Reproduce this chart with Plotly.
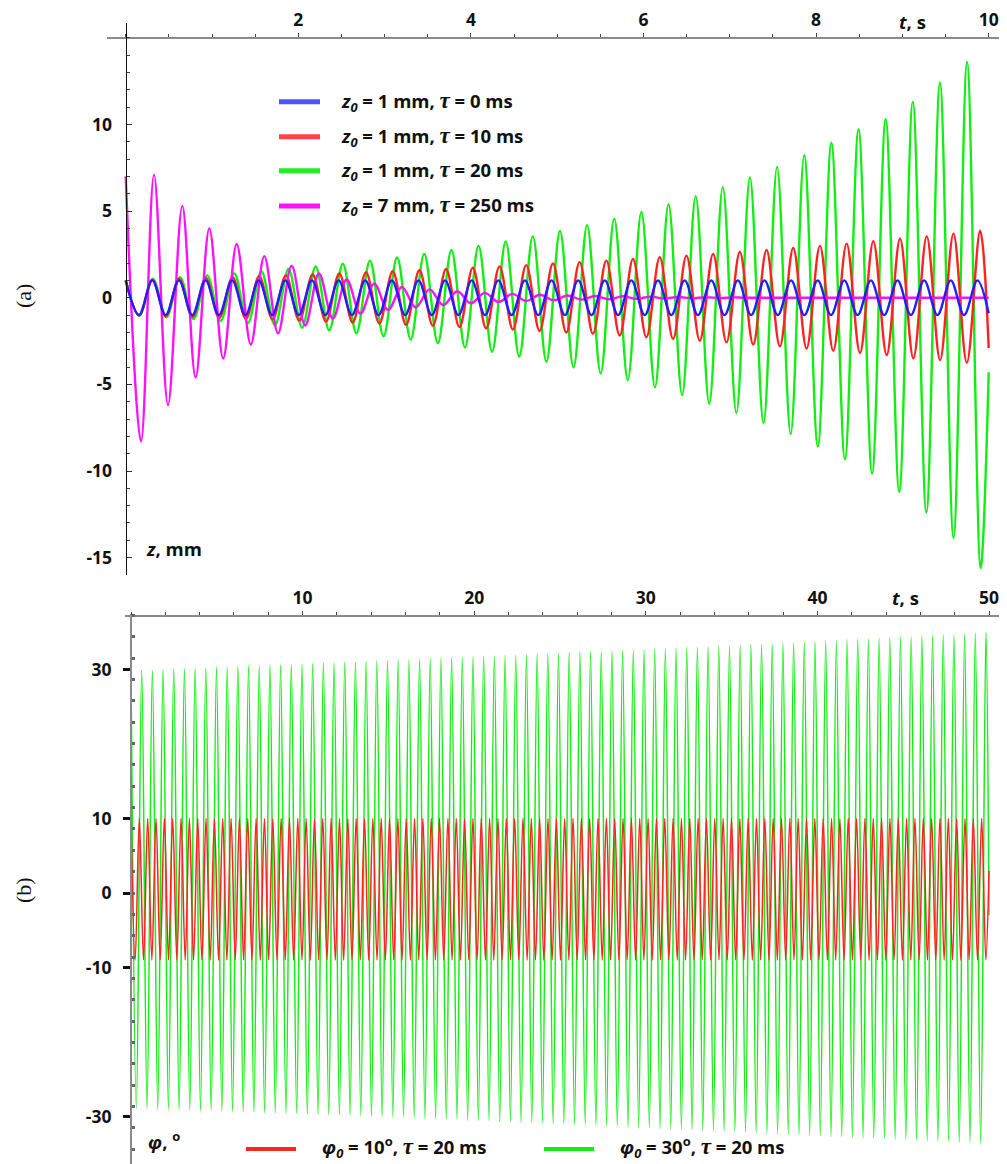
import plotly.graph_objects as go

# ================= Panel (a): z(t), mm  (t in s) =================
A_T_END = 10.0

# z0 = 1 mm, tau = 0 ms : constant amplitude
blue_half_period = 0.1542
blue_extrema = [1.0, -1.0] * 32 + [1.0]
blue_end = -0.9

# z0 = 1 mm, tau = 10 ms : slowly growing
red_half_period = 0.1547
red_peaks = [1.00, 1.04, 1.09, 1.14, 1.18, 1.24, 1.29, 1.34, 1.40, 1.46,
             1.53, 1.59, 1.66, 1.73, 1.81, 1.88, 1.97, 2.05, 2.14, 2.23,
             2.33, 2.43, 2.53, 2.64, 2.75, 2.87, 2.99, 3.12, 3.26, 3.40,
             3.54, 3.70, 3.86]
red_troughs = [-1.02, -1.07, -1.11, -1.16, -1.21, -1.26, -1.32, -1.37, -1.43, -1.49,
               -1.56, -1.62, -1.69, -1.77, -1.84, -1.92, -2.01, -2.09, -2.18, -2.28,
               -2.38, -2.48, -2.58, -2.70, -2.81, -2.93, -3.06, -3.19, -3.31, -3.50,
               -3.60, -3.75]
red_end = -2.9

# z0 = 1 mm, tau = 20 ms : strongly growing
green_half_period = 0.15725
green_peaks = [1.00, 1.09, 1.18, 1.29, 1.40, 1.52, 1.66, 1.80, 1.96, 2.13,
               2.32, 2.53, 2.75, 2.99, 3.25, 3.54, 3.85, 4.19, 4.56, 4.95,
               5.39, 5.86, 6.38, 6.94, 7.55, 8.22, 8.94, 9.72, 10.3, 11.3,
               12.4, 13.6]
green_troughs = [-1.04, -1.13, -1.23, -1.34, -1.46, -1.59, -1.73, -1.88, -2.05, -2.23,
                 -2.42, -2.63, -2.87, -3.12, -3.39, -3.69, -4.02, -4.37, -4.75, -5.17,
                 -5.62, -6.12, -6.65, -7.24, -7.87, -8.57, -9.32, -10.14, -11.2, -12.4,
                 -13.85, -15.6]
green_end = -4.3

# z0 = 7 mm, tau = 250 ms : decaying
magenta_t = [0.0, 0.177, 0.328, 0.49, 0.656, 0.81, 0.969, 1.13, 1.286, 1.45,
             1.606, 1.765, 1.923, 2.08, 2.24, 2.40, 2.56, 2.72, 2.88, 3.04,
             3.20, 3.36, 3.52, 3.68, 3.84, 4.00, 4.16, 4.32, 4.48, 4.64,
             4.80, 4.96, 5.12, 5.28, 5.44, 5.60, 5.76, 5.92, 6.08, 6.24,
             6.40, 6.56, 6.72, 6.88, 7.04, 7.20, 10.0]
magenta_z = [7.0, -8.3, 7.1, -6.2, 5.3, -4.6, 4.0, -3.5, 3.1, -2.7,
             2.4, -2.05, 1.85, -1.6, 1.4, -1.2, 1.05, -0.92, 0.81, -0.71,
             0.62, -0.55, 0.48, -0.42, 0.37, -0.32, 0.28, -0.25, 0.22, -0.19,
             0.17, -0.15, 0.13, -0.11, 0.10, -0.09, 0.08, -0.07, 0.06, -0.05,
             0.04, -0.035, 0.03, -0.025, 0.02, 0.0, 0.0]

a_xticks = [2, 4, 6, 8, 10]
a_yticks = [-15, -10, -5, 0, 5, 10]
a_yticktext = ["-15", "-10", "-5", "0", "5", "10"]
TAU = "<span style=\"font-family:'Liberation Serif';font-size:23px\"><i>τ</i></span>"
a_legend = ["<i>z</i><sub><i>0</i></sub> = 1 mm, " + TAU + " = 0 ms",
            "<i>z</i><sub><i>0</i></sub> = 1 mm, " + TAU + " = 10 ms",
            "<i>z</i><sub><i>0</i></sub> = 1 mm, " + TAU + " = 20 ms",
            "<i>z</i><sub><i>0</i></sub> = 7 mm, " + TAU + " = 250 ms"]

# ================= Panel (b): phi(t), degrees =================
B_T_END = 50.0
green_b_half_period = 0.3114
green_b_tops = [30.0, 29.9, 29.9, 30.0, 30.1, 30.1, 30.2, 30.2, 30.3, 30.3,
                30.4, 30.5, 30.5, 30.6, 30.6, 30.7, 30.7, 30.8, 30.9, 30.9,
                31.0, 31.0, 31.1, 31.2, 31.2, 31.3, 31.3, 31.4, 31.5, 31.5,
                31.6, 31.6, 31.7, 31.8, 31.8, 31.9, 31.9, 32.0, 32.1, 32.1,
                32.2, 32.3, 32.3, 32.4, 32.4, 32.5, 32.6, 32.6, 32.7, 32.8,
                32.8, 32.9, 33.0, 33.0, 33.1, 33.2, 33.2, 33.3, 33.4, 33.4,
                33.5, 33.6, 33.6, 33.7, 33.8, 33.9, 33.9, 34.0, 34.1, 34.1,
                34.2, 34.3, 34.4, 34.4, 34.5, 34.6, 34.7, 34.7, 34.8, 34.9,
                35.0]
green_b_bottoms = [-28.9, -28.9, -29.0, -29.0, -29.1, -29.1, -29.2, -29.2, -29.3, -29.3,
                   -29.4, -29.4, -29.5, -29.5, -29.6, -29.6, -29.7, -29.7, -29.8, -29.8,
                   -29.9, -29.9, -30.0, -30.0, -30.1, -30.1, -30.2, -30.3, -30.3, -30.4,
                   -30.4, -30.5, -30.5, -30.6, -30.7, -30.7, -30.8, -30.8, -30.9, -31.0,
                   -31.0, -31.1, -31.1, -31.2, -31.3, -31.3, -31.4, -31.5, -31.5, -31.6,
                   -31.7, -31.7, -31.8, -31.9, -31.9, -32.0, -32.1, -32.1, -32.2, -32.3,
                   -32.3, -32.4, -32.5, -32.5, -32.6, -32.7, -32.7, -32.8, -32.9, -32.9,
                   -33.0, -33.1, -33.1, -33.2, -33.3, -33.3, -33.4, -33.5, -33.5, -33.6]
green_b_end = -3.0

red_b_half_period = 0.243
red_b_peak = 10.0
red_b_trough = -9.0
red_b_count = 206
red_b_end = 3.0

b_yticks = [-30, -10, 0, 10, 30]
b_yticktext = ["-30", "-10", "0", "10", "30"]
b_xticks = [10, 20, 30, 40, 50]
b_legend = ["<i>φ</i><sub><i>0</i></sub> = 10<sup>o</sup>, " + TAU + " = 20 ms",
            "<i>φ</i><sub><i>0</i></sub> = 30<sup>o</sup>, " + TAU + " = 20 ms"]

# ---------------- helpers ----------------
def interleave(peaks, troughs):
    out = []
    for i in range(max(len(peaks), len(troughs))):
        if i < len(peaks):
            out.append(peaks[i])
        if i < len(troughs):
            out.append(troughs[i])
    return out


def series(half_period, extrema, t_end, end_value):
    t = [k * half_period for k in range(len(extrema))] + [t_end]
    return t, list(extrema) + [end_value]


BLUE = "#1e1eff"
RED = "#ff2222"
GREEN = "#11ee11"
MAGENTA = "#ff11ff"
LBLUE = "#5050ff"
LRED = "#ff4444"
LGREEN = "#22ee22"

fig = go.Figure()

bt, bz = series(blue_half_period, blue_extrema, A_T_END, blue_end)
rt, rz = series(red_half_period, interleave(red_peaks, red_troughs), A_T_END, red_end)
gt, gz = series(green_half_period, interleave(green_peaks, green_troughs), A_T_END, green_end)

for t, z, c in [(gt, gz, GREEN), (rt, rz, RED), (magenta_t, magenta_z, MAGENTA), (bt, bz, BLUE)]:
    fig.add_trace(go.Scatter(x=t, y=z, mode="lines", line=dict(color=c, width=2.4, shape="spline", smoothing=1.0),
                             xaxis="x", yaxis="y", showlegend=False, hoverinfo="skip"))

gbt, gbz = series(green_b_half_period, interleave(green_b_tops, green_b_bottoms), B_T_END, green_b_end)
red_b_ext = [red_b_peak if k % 2 == 0 else red_b_trough for k in range(red_b_count)]
rbt, rbz = series(red_b_half_period, red_b_ext, B_T_END, red_b_end)

fig.add_trace(go.Scatter(x=gbt, y=gbz, mode="lines", line=dict(color=GREEN, width=1.5, shape="spline", smoothing=1.0),
                         xaxis="x2", yaxis="y2", showlegend=False, hoverinfo="skip"))
fig.add_trace(go.Scatter(x=rbt, y=rbz, mode="lines", line=dict(color=RED, width=1.5, shape="spline", smoothing=1.0),
                         xaxis="x2", yaxis="y2", showlegend=False, hoverinfo="skip"))

# page body has an 8px margin: the figure occupies page pixels 8..
OFF = 8
W, H = 999, 1156
def px(x):
    return (x - OFF) / W
def py(y):
    return 1 - (y - OFF) / H

FONT = "'Open Sans', Lato, sans-serif"
TICKFONT = dict(family=FONT, size=17.5, color="#111", weight="bold")
TXT = dict(family=FONT, size=18.5, color="#111")

# pixel calibration of the reference
# panel a: t=0 at x=125.7, 86.3 px/s ; z=0 at y=297.7, 17.33 px/unit
def ta(x):
    return (x - 125.7) / 86.3
def za(y):
    return (297.7 - y) / 17.33
# panel b: t=0 at x=131, 17.16 px/s ; phi=0 at y=893, 7.45 px/deg
def tb(x):
    return (x - 131) / 17.16
def zb(y):
    return (893 - y) / 7.45

fig.update_layout(
    width=W, height=H, margin=dict(l=0, r=0, t=0, b=0),
    plot_bgcolor="white", paper_bgcolor="white",
    showlegend=False,
    xaxis=dict(domain=[px(107), px(1003)], range=[ta(107), ta(1003)], anchor="free", position=py(37.7),
               side="top", showline=True, linecolor="#8a8a8a", linewidth=2,
               tickmode="array", tickvals=a_xticks, ticks="outside", ticklen=4, tickcolor="#444",
               tickfont=TICKFONT, showgrid=False, zeroline=False,
               minor=dict(tickmode="linear", tick0=0, dtick=0.5, ticks="outside", ticklen=3, tickcolor="#444")),
    yaxis=dict(domain=[py(575), py(23)], range=[za(575), za(23)], anchor="free", position=px(125.7),
               showline=True, linecolor="#111", linewidth=1.3,
               tickmode="array", tickvals=a_yticks, ticktext=a_yticktext, ticks="inside", ticklen=5,
               tickcolor="#333", tickfont=TICKFONT, showgrid=False, zeroline=False, ticklabelstandoff=10,
               minor=dict(tickmode="linear", tick0=0, dtick=1, ticks="inside", ticklen=3, tickcolor="#444")),
    xaxis2=dict(domain=[px(125), px(1003)], range=[tb(125), tb(1003)], anchor="free", position=py(616),
                side="top", showline=True, linecolor="#8a8a8a", linewidth=2,
                tickmode="array", tickvals=b_xticks, ticks="outside", ticklen=4, tickcolor="#444",
                tickfont=TICKFONT, showgrid=False, zeroline=False,
                minor=dict(tickmode="linear", tick0=0, dtick=2, ticks="outside", ticklen=3, tickcolor="#444")),
    yaxis2=dict(domain=[0, py(614)], range=[zb(OFF + H), zb(614)], anchor="free", position=px(131),
                showline=True, linecolor="#8a8a8a", linewidth=2,
                tickmode="array", tickvals=b_yticks, ticktext=b_yticktext, ticks="outside", ticklen=7,
                tickwidth=2.5, tickcolor="#111", tickfont=TICKFONT, showgrid=False, zeroline=False,
                ticklabelstandoff=8,
                minor=dict(tickmode="linear", tick0=0, dtick=2.865, ticks="inside", ticklen=3, tickcolor="#666")),
)

shapes = []
annotations = []

# legend (a)
leg_a_colors = [LBLUE, LRED, LGREEN, MAGENTA]
leg_a_y = [101.7, 136.7, 170.7, 206.0]
for txt, col, y in zip(a_legend, leg_a_colors, leg_a_y):
    shapes.append(dict(type="line", xref="paper", yref="paper", x0=px(279), x1=px(320), y0=py(y), y1=py(y),
                       line=dict(color=col, width=5)))
    annotations.append(dict(text="<b>" + txt + "</b>", xref="paper", yref="paper", x=px(339), y=py(y),
                            xanchor="left", yanchor="middle", showarrow=False, font=TXT))

# legend (b)
leg_b_colors = [RED, GREEN]
leg_b_x = [(246, 296, 320), (544, 594, 618)]
for txt, col, (x0, x1, xt) in zip(b_legend, leg_b_colors, leg_b_x):
    shapes.append(dict(type="line", xref="paper", yref="paper", x0=px(x0), x1=px(x1), y0=py(1149), y1=py(1149),
                       line=dict(color=col, width=4)))
    annotations.append(dict(text="<b>" + txt + "</b>", xref="paper", yref="paper", x=px(xt), y=py(1147),
                            xanchor="left", yanchor="middle", showarrow=False, font=TXT))

# axis titles and panel labels
annotations += [
    dict(text="<b><i>t</i>, s</b>", xref="paper", yref="paper", x=px(912), y=py(21), showarrow=False,
         xanchor="center", yanchor="middle", font=TXT),
    dict(text="<b><i>z</i>, mm</b>", xref="paper", yref="paper", x=px(144), y=py(548), showarrow=False,
         xanchor="left", yanchor="middle", font=TXT),
    dict(text="<b><i>t</i>, s</b>", xref="paper", yref="paper", x=px(905), y=py(597), showarrow=False,
         xanchor="center", yanchor="middle", font=TXT),
    dict(text="<b><i>φ</i>, <sup>o</sup></b>", xref="paper", yref="paper", x=px(146), y=py(1140), showarrow=False,
         xanchor="left", yanchor="middle", font=TXT),
    dict(text="(a)", xref="paper", yref="paper", x=px(23), y=py(296), showarrow=False, textangle=-90,
         xanchor="center", yanchor="middle", font=dict(family="Liberation Serif", size=22, color="#111")),
    dict(text="(b)", xref="paper", yref="paper", x=px(23), y=py(890), showarrow=False, textangle=-90,
         xanchor="center", yanchor="middle", font=dict(family="Liberation Serif", size=22, color="#111")),
]

fig.update_layout(shapes=shapes, annotations=annotations)
fig.write_html("out.html")
